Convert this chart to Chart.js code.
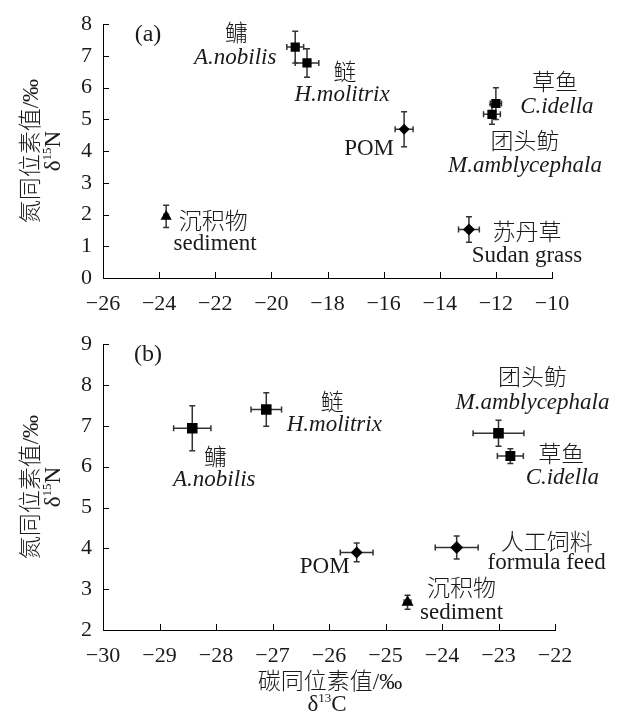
<!DOCTYPE html>
<html>
<head>
<meta charset="utf-8">
<script src="https://cdn.jsdelivr.net/npm/chart.js@4/dist/chart.umd.min.js"></script>
<style>
  html, body { margin:0; padding:0; background:#fff; }
  #wrap { position:relative; width:622px; height:719px; overflow:hidden; }
  canvas { position:absolute; left:0; }
</style>
</head>
<body>
<div id="wrap">
  <canvas id="ca" width="622" height="320" style="top:0px"></canvas>
  <canvas id="cb" width="622" height="399" style="top:320px"></canvas>
</div>
<script>
// ---------- Panel (a) data ----------
const cnNamesA = ['鳙', '鲢', '', '草鱼', '团头鲂', '苏丹草', '沉积物'];
const enNamesA = ['A.nobilis', 'H.molitrix', 'POM', 'C.idella', 'M.amblycephala', 'Sudan grass', 'sediment'];
const d13CA = [-19.15, -18.73, -15.27, -12.0, -12.14, -12.96, -23.75];
const d15NA = [7.28, 6.78, 4.69, 5.5, 5.16, 1.53, 1.94];
const xErrA = [0.3, 0.42, 0.32, 0.2, 0.3, 0.37, 0.08];
const yErrA = [0.5, 0.45, 0.55, 0.5, 0.31, 0.4, 0.35];
const xTicksA = [-26, -24, -22, -20, -18, -16, -14, -12, -10];
const yTicksA = [0, 1, 2, 3, 4, 5, 6, 7, 8];

// ---------- Panel (b) data ----------
const cnNamesB = ['鳙', '鲢', '团头鲂', '草鱼', '人工饲料', '', '沉积物'];
const enNamesB = ['A.nobilis', 'H.molitrix', 'M.amblycephala', 'C.idella', 'formula feed', 'POM', 'sediment'];
const d13CB = [-28.42, -27.11, -23.0, -22.79, -23.74, -25.51, -24.61];
const d15NB = [6.94, 7.4, 6.82, 6.26, 4.02, 3.9, 2.68];
const xErrB = [0.33, 0.27, 0.45, 0.23, 0.38, 0.29, 0.06];
const yErrB = [0.55, 0.41, 0.32, 0.18, 0.28, 0.23, 0.17];
const xTicksB = [-30, -29, -28, -27, -26, -25, -24, -23, -22];
const yTicksB = [2, 3, 4, 5, 6, 7, 8, 9];

// ---------- styles / layout (not data) ----------
const stylesA = ['rect', 'rect', 'rectRot', 'rect', 'rect', 'rectRot', 'triangle'];
const radiiA = [6.5, 6.5, 5.5, 6.5, 6.5, 6, 6.5];
const italicA = [true, true, false, true, true, false, false];
const cnOffA = [[-59, -12], [38, 11], null, [59, -20], [33, 29], [58, 4], [47, 6]];
const enOffA = [[-60, 11], [35, 32], [-35, 20], [61, 3], [33, 52], [58, 26], [49, 27]];

const stylesB = ['rect', 'rect', 'rect', 'rect', 'rectRot', 'rectRot', 'triangle'];
const radiiB = [7.5, 7.5, 7.5, 7, 6.5, 6, 7];
const italicB = [true, true, true, true, false, false, false];
const cnOffB = [[23, 31], [66, -6], [34, -54], [51, 0], [90, -4], null, [54, -12]];
const enOffB = [[22, 52], [68, 15], [34, -30], [52, 22], [90, 15], [-32, 15], [54, 11]];

const SERIF = '"Liberation Serif", "Times New Roman", "Noto Sans CJK SC", serif';
const TXT = '#1a1a1a';

function fmt(v) { return (v < 0 ? '\u2212' : '') + Math.abs(v); }

function drawRich(ctx, runs, cx, cy, size) {
  let w = 0;
  runs.forEach(r => {
    ctx.font = (r.sup ? Math.round(size * 0.58) : size) + 'px ' + SERIF;
    r.w = ctx.measureText(r.t).width; w += r.w;
  });
  let x = cx - w / 2;
  ctx.textAlign = 'left';
  ctx.textBaseline = 'middle';
  runs.forEach(r => {
    ctx.font = (r.sup ? Math.round(size * 0.58) : size) + 'px ' + SERIF;
    ctx.fillText(r.t, x, r.sup ? cy - size * 0.3 : cy);
    x += r.w;
  });
}

function makePlugin(p) {
  return {
    id: 'custom_' + p.tag,
    beforeDatasetsDraw(chart) {
      const { ctx, scales: { x, y } } = chart;
      ctx.save();
      ctx.strokeStyle = '#333';
      ctx.lineWidth = 1.5;
      const cap = 3;
      p.xs.forEach((xv, i) => {
        const yv = p.ys[i];
        const px = x.getPixelForValue(xv), py = y.getPixelForValue(yv);
        const x1 = x.getPixelForValue(xv - p.xe[i]), x2 = x.getPixelForValue(xv + p.xe[i]);
        const y1 = y.getPixelForValue(yv + p.ye[i]), y2 = y.getPixelForValue(yv - p.ye[i]);
        ctx.beginPath();
        ctx.moveTo(x1, py); ctx.lineTo(x2, py);
        ctx.moveTo(x1, py - cap); ctx.lineTo(x1, py + cap);
        ctx.moveTo(x2, py - cap); ctx.lineTo(x2, py + cap);
        ctx.moveTo(px, y1); ctx.lineTo(px, y2);
        ctx.moveTo(px - cap, y1); ctx.lineTo(px + cap, y1);
        ctx.moveTo(px - cap, y2); ctx.lineTo(px + cap, y2);
        ctx.stroke();
      });
      ctx.restore();
    },
    afterDraw(chart) {
      const { ctx, chartArea: ca, scales: { x, y } } = chart;
      ctx.save();
      ctx.strokeStyle = '#000';
      ctx.lineWidth = 1;
      ctx.beginPath();
      p.xt.forEach(v => {
        const px = Math.round(x.getPixelForValue(v)) + 0.5;
        ctx.moveTo(px, ca.bottom); ctx.lineTo(px, ca.bottom - 6);
      });
      p.yt.forEach(v => {
        const py = Math.round(y.getPixelForValue(v)) + 0.5;
        ctx.moveTo(ca.left, py); ctx.lineTo(ca.left + 6, py);
      });
      ctx.stroke();

      ctx.fillStyle = TXT;
      p.xs.forEach((xv, i) => {
        const px = x.getPixelForValue(xv), py = y.getPixelForValue(p.ys[i]);
        ctx.textAlign = 'center';
        ctx.textBaseline = 'middle';
        if (p.cn[i] && p.cnOff[i]) {
          ctx.font = '300 23px ' + SERIF;
          ctx.fillText(p.cn[i], px + p.cnOff[i][0], py + p.cnOff[i][1]);
        }
        if (p.en[i] && p.enOff[i]) {
          ctx.font = (p.it[i] ? 'italic ' : '') + '23px ' + SERIF;
          ctx.fillText(p.en[i], px + p.enOff[i][0], py + p.enOff[i][1]);
        }
      });
      ctx.font = '24px ' + SERIF;
      ctx.textAlign = 'center';
      ctx.textBaseline = 'middle';
      ctx.fillText(p.letter, ca.left + 45, ca.top + 11);

      const cy = (ca.top + ca.bottom) / 2;
      ctx.save();
      ctx.translate(32, cy);
      ctx.rotate(-Math.PI / 2);
      ctx.font = '300 23px ' + SERIF;
      ctx.textAlign = 'center';
      ctx.textBaseline = 'middle';
      ctx.fillText('氮同位素值/‰', 0, 0);
      ctx.restore();
      ctx.save();
      ctx.translate(54, cy);
      ctx.rotate(-Math.PI / 2);
      drawRich(ctx, [{ t: 'δ' }, { t: '15', sup: true }, { t: 'N' }], 0, 0, 23);
      ctx.restore();

      if (p.xTitle) {
        const cx = (ca.left + ca.right) / 2;
        ctx.font = '300 23px ' + SERIF;
        ctx.textAlign = 'center';
        ctx.textBaseline = 'middle';
        ctx.fillText('碳同位素值/‰', cx + 1, ca.bottom + 53);
        drawRich(ctx, [{ t: 'δ' }, { t: '13', sup: true }, { t: 'C' }], cx - 2, ca.bottom + 75, 23);
      }
      ctx.restore();
    }
  };
}

function makeChart(id, xs, ys, xt, yt, styles, radii, p, xAxisH, rightPad) {
  const pts = xs.map((v, i) => ({ x: v, y: ys[i] }));
  return new Chart(document.getElementById(id), {
    type: 'scatter',
    data: {
      datasets: [{
        data: pts,
        pointStyle: styles,
        pointRadius: radii,
        pointHoverRadius: radii,
        backgroundColor: '#000',
        borderColor: '#000',
        borderWidth: 0
      }]
    },
    options: {
      responsive: false,
      animation: false,
      devicePixelRatio: 1,
      layout: { padding: { top: 22, right: rightPad, left: 0, bottom: 0 } },
      plugins: { legend: { display: false }, tooltip: { enabled: false } },
      scales: {
        x: {
          type: 'linear',
          min: xt[0], max: xt[xt.length - 1],
          afterBuildTicks: s => { s.ticks = xt.map(v => ({ value: v })); },
          afterFit: s => { s.height = xAxisH; },
          grid: { display: true, drawOnChartArea: false, drawTicks: false },
          border: { display: true, color: '#000', width: 1 },
          ticks: {
            padding: 13,
            color: TXT,
            font: { family: SERIF, size: 22 },
            callback: v => fmt(v),
            maxRotation: 0, autoSkip: false
          }
        },
        y: {
          type: 'linear',
          min: yt[0], max: yt[yt.length - 1],
          afterBuildTicks: s => { s.ticks = yt.map(v => ({ value: v })); },
          afterFit: s => { s.width = 103; },
          grid: { display: true, drawOnChartArea: false, drawTicks: false },
          border: { display: true, color: '#000', width: 1 },
          ticks: {
            padding: 11,
            color: TXT,
            font: { family: SERIF, size: 22 },
            callback: v => fmt(v),
            autoSkip: false
          }
        }
      }
    },
    plugins: [makePlugin(p)]
  });
}

makeChart('ca', d13CA, d15NA, xTicksA, yTicksA, stylesA, radiiA, {
  tag: 'a', xs: d13CA, ys: d15NA, xe: xErrA, ye: yErrA, xt: xTicksA, yt: yTicksA,
  cn: cnNamesA, en: enNamesA, it: italicA, cnOff: cnOffA, enOff: enOffA, letter: '(a)', xTitle: false
}, 42, 70);

makeChart('cb', d13CB, d15NB, xTicksB, yTicksB, stylesB, radiiB, {
  tag: 'b', xs: d13CB, ys: d15NB, xe: xErrB, ye: yErrB, xt: xTicksB, yt: yTicksB,
  cn: cnNamesB, en: enNamesB, it: italicB, cnOff: cnOffB, enOff: enOffB, letter: '(b)', xTitle: true
}, 89, 67);
</script>
</body>
</html>
